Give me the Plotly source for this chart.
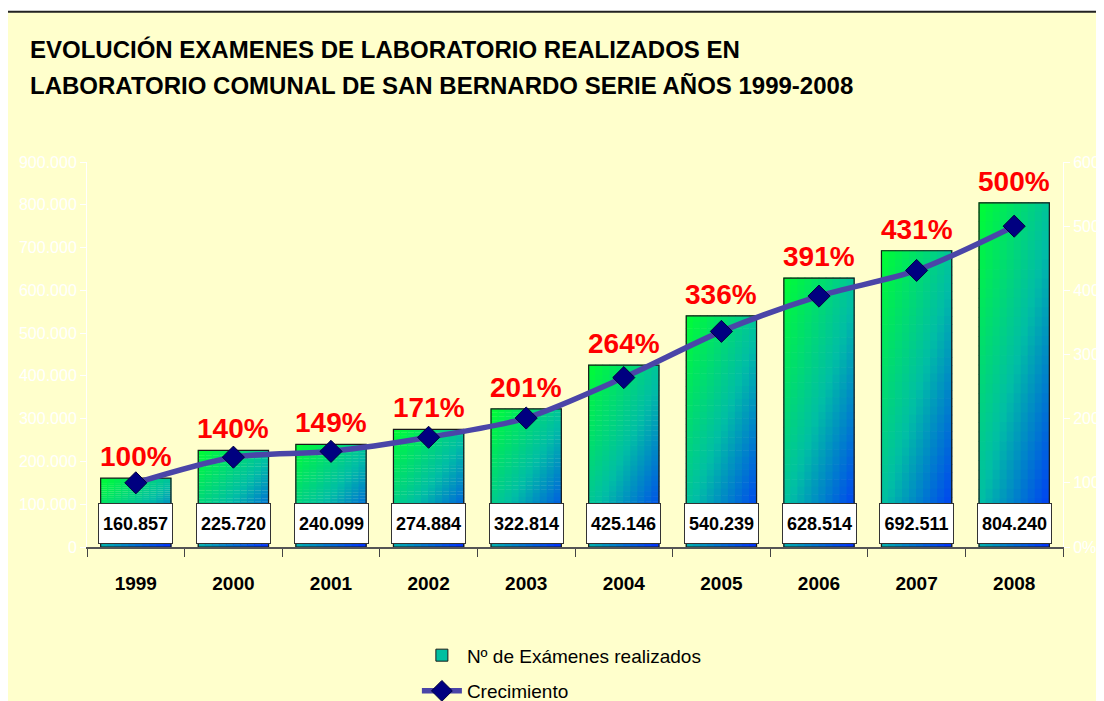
import plotly.graph_objects as go

years = ["1999", "2000", "2001", "2002", "2003", "2004", "2005", "2006", "2007", "2008"]
examenes = [160857, 225720, 240099, 274884, 322814, 425146, 540239, 628514, 692511, 804240]
crecimiento = [100, 140, 149, 171, 201, 264, 336, 391, 431, 500]

title_l1 = "EVOLUCIÓN EXAMENES DE LABORATORIO REALIZADOS EN"
title_l2 = "LABORATORIO COMUNAL DE SAN BERNARDO SERIE AÑOS 1999-2008"

FONT = "Arial, Liberation Sans, sans-serif"
BAR_W = 0.72
pos = list(range(len(years)))  # category positions on the axis

# gradient stops (green top-left -> teal -> blue bottom-right)
STOPS = [(0.0, (0, 255, 51)), (0.5, (0, 190, 165)), (1.0, (0, 45, 255))]


def grad(t):
    t = max(0.0, min(1.0, t))
    for (t0, c0), (t1, c1) in zip(STOPS[:-1], STOPS[1:]):
        if t <= t1:
            f = (t - t0) / (t1 - t0)
            return "rgb(%d,%d,%d)" % tuple(round(a + (b - a) * f) for a, b in zip(c0, c1))
    return "rgb(%d,%d,%d)" % STOPS[-1][1]


NR, NC = 36, 10
seg_x, seg_base, seg_y, seg_c = [], [], [], []
for p, v in zip(pos, examenes):
    h = v / NR
    for r in range(NR):
        vfrac = (r + 0.5) / NR
        base = v - (r + 1) * h
        for c in range(NC):
            ufrac = (c + 0.5) / NC
            seg_x.append(p - BAR_W / 2 + (c + 0.5) * BAR_W / NC)
            seg_base.append(base)
            seg_y.append(h * 1.08)
            seg_c.append(grad(0.55 * vfrac + 0.45 * ufrac))

fig = go.Figure()

fig.add_trace(go.Bar(
    x=seg_x, y=seg_y, base=seg_base, width=BAR_W / NC * 1.15,
    marker=dict(color=seg_c, line=dict(width=0)),
    showlegend=False, hoverinfo="skip",
))

fig.add_trace(go.Bar(
    x=pos, y=examenes, width=BAR_W,
    marker=dict(color="rgba(0,0,0,0)", line=dict(color="#1a1a1a", width=1.2)),
    showlegend=False, hoverinfo="skip",
))

# legend entry for the bars
fig.add_trace(go.Bar(
    x=[pos[0]], y=[None], name="Nº de Exámenes realizados",
    marker=dict(color="#00BFA0", line=dict(color="#1a1a1a", width=1)),
    legendgroup="a",
))

fig.add_trace(go.Scatter(
    x=pos, y=crecimiento, yaxis="y2", name="Crecimiento",
    mode="lines+markers",
    line=dict(color="#4A45A8", width=5.5, shape="spline", smoothing=0.8),
    marker=dict(symbol="diamond", size=17, color="#000080",
                line=dict(color="#000040", width=1)),
    legendgroup="b",
))

annotations = []
for p, v, g in zip(pos, examenes, crecimiento):
    annotations.append(dict(
        x=p, y=v, xref="x", yref="y", yanchor="bottom", yshift=4,
        text="%d%%" % g, showarrow=False,
        font=dict(family=FONT, size=28, color="#FF0000", weight="bold"),
    ))
    annotations.append(dict(
        x=p, y=56000, xref="x", yref="y", yanchor="middle",
        text=f"{v:,}".replace(",", "."), showarrow=False,
        bgcolor="#FFFFFF", bordercolor="#333333", borderwidth=1,
        borderpad=3, width=67, height=33,
        font=dict(family=FONT, size=18, color="#000000", weight="bold"),
    ))

annotations.append(dict(
    x=-0.060, y=1.291, xref="paper", yref="paper", xanchor="left", yanchor="middle",
    text=title_l1, showarrow=False,
    font=dict(family=FONT, size=24, color="#000000", weight="bold"),
))
annotations.append(dict(
    x=-0.060, y=1.200, xref="paper", yref="paper", xanchor="left", yanchor="middle",
    text=title_l2, showarrow=False,
    font=dict(family=FONT, size=24, color="#000000", weight="bold"),
))

fig.update_layout(
    width=1096, height=693,
    margin=dict(l=79, r=41, t=154, b=154, autoexpand=False),
    paper_bgcolor="#FFFFFF", plot_bgcolor="rgba(0,0,0,0)",
    barmode="overlay",
    separators=",.",
    font=dict(family=FONT),
    shapes=[dict(
        type="rect", xref="paper", yref="paper",
        x0=-0.082, x1=1.2, y0=-0.6, y1=1.39,
        fillcolor="#FFFFCC", line=dict(color="#222222", width=2), layer="below",
    )],
    xaxis=dict(
        range=[-0.5, len(years) - 0.5], tickvals=pos, ticktext=years,
        showline=True, linecolor="#555555", linewidth=1.5,
        ticks="", automargin=False,
        minor=dict(ticks="outside", tick0=-0.5, dtick=1, ticklen=8, tickcolor="#444444",
                   showgrid=False),
        tickfont=dict(family=FONT, size=19, color="#000000", weight="bold"),
        ticklabelstandoff=18, showgrid=False, zeroline=False,
    ),
    yaxis=dict(
        range=[0, 900000], dtick=100000, tickformat=",d", automargin=False,
        showline=True, linecolor="#FFFFFF", linewidth=1,
        ticks="outside", ticklen=6, tickcolor="#FFFFFF",
        tickfont=dict(family=FONT, size=16, color="#FFFFFF"),
        showgrid=False, zeroline=False,
    ),
    yaxis2=dict(
        overlaying="y", side="right", range=[0, 600], dtick=100, ticksuffix="%",
        automargin=False,
        showline=True, linecolor="#FFFFFF", linewidth=1,
        ticks="outside", ticklen=6, tickcolor="#FFFFFF",
        tickfont=dict(family=FONT, size=16, color="#FFFFFF"),
        showgrid=False, zeroline=False,
    ),
    legend=dict(
        x=0.338, y=-0.232, xanchor="left", yanchor="top",
        orientation="v", traceorder="grouped", tracegroupgap=8,
        bgcolor="rgba(0,0,0,0)", itemwidth=40,
        font=dict(family=FONT, size=19, color="#000000"),
    ),
    annotations=annotations,
    hovermode=False,
)

fig.write_html("out.html")
